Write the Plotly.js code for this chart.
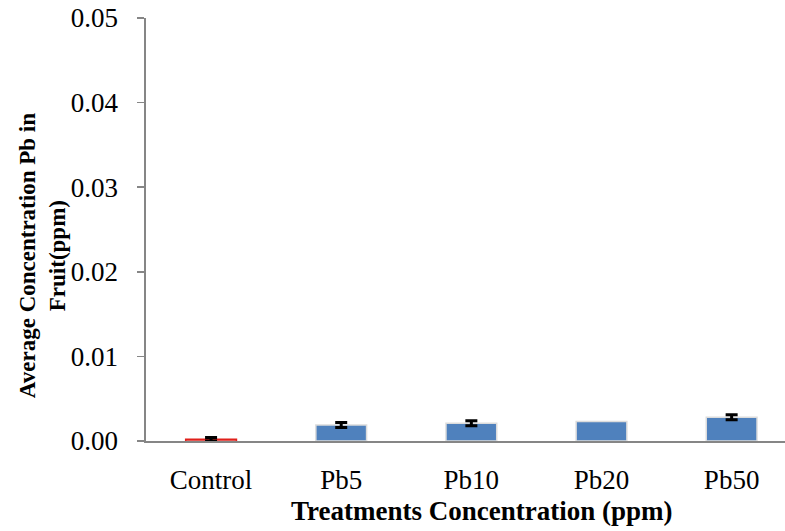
<!DOCTYPE html>
<html>
<head>
<meta charset="utf-8">
<script src="https://cdn.plot.ly/plotly-3.0.1.min.js"></script>
<style>body{margin:0;padding:0;background:#fff}#chart{width:785px;height:531px}</style>
</head>
<body>
<div id="chart"></div>
<script>
const categories = ["Control", "Pb5", "Pb10", "Pb20", "Pb50"];
const meanPb = [0.0002, 0.0019, 0.0021, 0.0023, 0.0028];
const errPb = [0.0002, 0.0003, 0.0003, null, 0.0003];
const barColors = ["#ffffff", "#4f81bd", "#4f81bd", "#4f81bd", "#4f81bd"];
const barEdges = ["#e0201b", "#dcdcdc", "#dcdcdc", "#dcdcdc", "#dcdcdc"];
const yTicks = [0, 0.01, 0.02, 0.03, 0.04, 0.05];

const FAM = "Liberation Serif";

const bars = {
  type: "bar",
  x: categories,
  y: meanPb,
  width: 0.39,
  marker: { color: barColors, line: { color: barEdges, width: 1.5 } },
  hoverinfo: "none"
};

const errs = {
  type: "scatter",
  mode: "markers",
  x: categories,
  y: meanPb.map((v, i) => (errPb[i] == null ? null : v)),
  marker: { size: 0.1, opacity: 0 },
  error_y: { type: "data", array: errPb.map(e => (e == null ? 0 : e)), visible: true, color: "#000", thickness: 3, width: 6 },
  hoverinfo: "none"
};

const layout = {
  width: 785, height: 531,
  margin: { l: 146, r: 0, t: 18, b: 90, pad: 0 },
  paper_bgcolor: "#fff", plot_bgcolor: "#fff",
  showlegend: false,
  font: { family: FAM, color: "#000" },
  xaxis: {
    type: "category",
    range: [-0.5, 4.41],
    showline: true, linecolor: "#868686", linewidth: 2,
    ticks: "", showgrid: false, zeroline: false,
    tickfont: { family: FAM, size: 27, color: "#000" },
    ticklabelstandoff: 14,
    fixedrange: true
  },
  yaxis: {
    range: [0, 0.05],
    tickvals: yTicks,
    ticktext: yTicks.map(v => v.toFixed(2) + "\u00a0\u00a0"),
    showline: true, linecolor: "#868686", linewidth: 2,
    ticks: "outside", ticklen: 7, tickcolor: "#868686", tickwidth: 1.5,
    showgrid: false, zeroline: false,
    tickfont: { family: FAM, size: 27, color: "#000" },
    fixedrange: true
  },
  annotations: [{
    text: "<b>Average Concentration Pb in<br>Fruit(ppm)</b>",
    font: { family: FAM, size: 23, color: "#000" },
    textangle: -90,
    xref: "paper", yref: "paper",
    x: -104 / 639, y: 0.437,
    xanchor: "center", yanchor: "middle",
    showarrow: false
  }, {
    text: "<b>Treatments Concentration (ppm)</b>",
    font: { family: FAM, size: 27, color: "#000" },
    xref: "paper", yref: "paper",
    x: 0.525, y: -0.166,
    xanchor: "center", yanchor: "middle",
    showarrow: false
  }]
};

Plotly.newPlot("chart", [bars, errs], layout, { displayModeBar: false, staticPlot: true });
</script>
</body>
</html>
